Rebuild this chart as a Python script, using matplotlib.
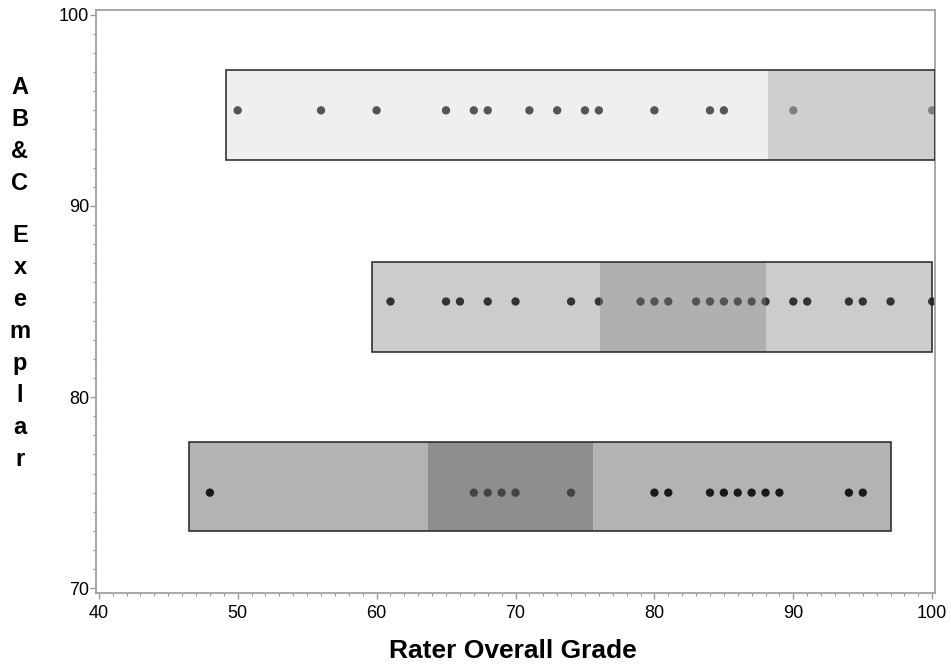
import numpy as np
import matplotlib.pyplot as plt
from matplotlib.patches import Rectangle
from matplotlib.ticker import MultipleLocator

plt.rcParams['font.family'] = ['Liberation Sans', 'DejaVu Sans']

# exemplar rows (y level) and rater grades
levels = [95, 85, 75]
grades = [
    [50, 56, 60, 65, 67, 68, 71, 73, 75, 76, 80, 84, 85, 90, 100],
    [61, 65, 66, 68, 70, 74, 76, 79, 80, 81, 83, 84, 85, 86, 87, 88, 90, 91, 94, 95, 97, 100],
    [48, 67, 68, 69, 70, 74, 80, 81, 84, 85, 86, 87, 88, 89, 94, 95],
]
# outer range box and inner shaded band for each row
box_lo = [49.15, 59.65, 46.5]
box_hi = [100.2, 100.0, 97.0]
band_lo = [88.2, 76.05, 63.7]
band_hi = [100.2, 88.0, 75.6]
box_bottom = [92.4, 82.35, 72.98]
box_top = [97.1, 87.07, 77.64]

box_fill = ['#efefef', '#cccccc', '#b3b3b3']
band_fill = ['#aeaeae', '#878787', '#6c6c6c']
band_alpha = [0.48, 0.4, 0.51]
dot_color = ['#555555', '#333333', '#1a1a1a']

fig = plt.figure(figsize=(9.51, 6.68), dpi=100)
ax = fig.add_axes([96/951, 75/668, (935-96)/951, (593-10)/668])

for i in range(len(levels)):
    h = box_top[i] - box_bottom[i]
    ax.add_patch(Rectangle((box_lo[i], box_bottom[i]), box_hi[i]-box_lo[i], h,
                           facecolor=box_fill[i], edgecolor='none', zorder=1))
    ax.scatter(grades[i], [levels[i]]*len(grades[i]), s=36, color=dot_color[i],
               edgecolors='none', zorder=2)
    ax.add_patch(Rectangle((band_lo[i], box_bottom[i]), band_hi[i]-band_lo[i], h,
                           facecolor=band_fill[i], alpha=band_alpha[i],
                           edgecolor='none', zorder=3))
    ax.add_patch(Rectangle((box_lo[i], box_bottom[i]), box_hi[i]-box_lo[i], h,
                           facecolor='none', edgecolor='#222222', linewidth=1.1, zorder=4))

ax.set_xlim(39.8, 100.2)
ax.set_ylim(69.75, 100.25)
ax.set_xticks([40, 50, 60, 70, 80, 90, 100])
ax.set_yticks([70, 80, 90, 100])
ax.xaxis.set_minor_locator(MultipleLocator(1))
ax.yaxis.set_minor_locator(MultipleLocator(1))
ax.tick_params(which='major', length=4, width=1, color='#999999', labelsize=13)
ax.tick_params(axis='x', which='major', pad=5)
ax.tick_params(axis='y', which='major', pad=1)
ax.tick_params(which='minor', length=2.5, width=0.8, color='#999999')
for sp in ax.spines.values():
    sp.set_color('#a0a0a0')
    sp.set_linewidth(1.3)

fig.text(513/951, 1-651/668, 'Rater Overall Grade', ha='center', va='center',
         fontsize=19, fontweight='bold')

# vertical stacked y label
label = 'AB&C Exemplar'
y = 1 - 87/668
for ch in label:
    if ch == ' ':
        y -= 20/668
        continue
    fig.text(20/951, y, ch, ha='center', va='center', fontsize=17, fontweight='bold')
    y -= 32/668

fig.savefig('out.png', dpi=100)
